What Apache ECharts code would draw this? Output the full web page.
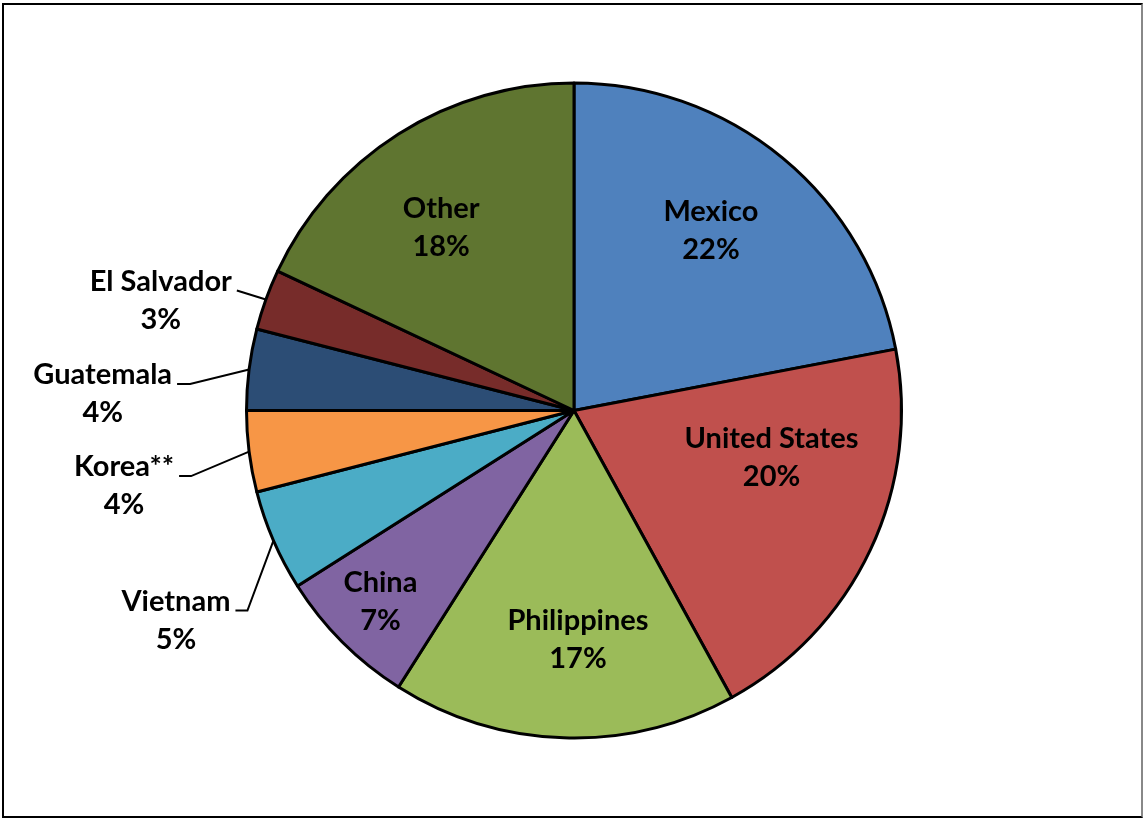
<!DOCTYPE html>
<html>
<head>
<meta charset="utf-8">
<script src="https://cdn.jsdelivr.net/npm/echarts@6/dist/echarts.min.js"></script>
<style>
  html, body { margin: 0; padding: 0; background: #fff; }
  #chart { position: absolute; left: 0; top: 0; width: 1145px; height: 819px; }
  #frame { position: absolute; left: 2px; top: 3px; width: 1141px; height: 815px;
           box-sizing: border-box; border: 2px solid #000; border-right-color: #888; pointer-events: none; }
</style>
</head>
<body>
<div id="chart"></div>
<div id="frame"></div>
<script>
// Shares by country (percent), clockwise from 12 o'clock
const countries = ['Mexico', 'United States', 'Philippines', 'China', 'Vietnam', 'Korea**', 'Guatemala', 'El Salvador', 'Other'];
const shares = [22, 20, 17, 7, 5, 4, 4, 3, 18];
const palette = ['#4F81BD', '#C0504D', '#9BBB59', '#8064A2', '#4BACC6', '#F79646', '#2C4D75', '#772C2A', '#5F7530'];

const CX = 574, CY = 410.5, R = 327.5;
const FONT = 'Lato, "Open Sans", sans-serif';

// Labels placed inside their slice: [fraction of radius, angle nudge in degrees]
const insideSpots = {
  'Mexico': [0.69, -2.3],
  'United States': [0.62, -11.8],
  'Philippines': [0.70, -2.8],
  'China': [0.83, 0.4],
  'Other': [0.69, -3.6]
};
// Outside labels: leader bend relative to slice edge [dx, dy], then horizontal run length
const leaderBends = {
  'Vietnam': [-26, 70, 12],
  'Korea**': [-58, 24.5, 12],
  'Guatemala': [-59, 14.5, 13],
  'El Salvador': [-29, -9, 0]
};

const total = shares.reduce((a, b) => a + b, 0);
const midAngles = [];
let acc = 0;
shares.forEach(v => { midAngles.push((acc + v / 2) / total * 360); acc += v; });

const polar = (deg, r) => {
  const a = deg * Math.PI / 180;
  return [CX + r * Math.sin(a), CY - r * Math.cos(a)];
};

const data = countries.map((name, i) => {
  const item = { name: name, value: shares[i], itemStyle: { color: palette[i] } };
  if (insideSpots[name]) {
    item.label = { position: 'inside' };
    item.labelLine = { show: false };
  }
  return item;
});

const chart = echarts.init(document.getElementById('chart'), null, { renderer: 'canvas' });
chart.setOption({
  animation: false,
  series: [{
    type: 'pie',
    center: [CX, CY],
    radius: [0, R],
    startAngle: 90,
    clockwise: true,
    avoidLabelOverlap: false,
    data: data,
    itemStyle: { borderColor: '#000', borderWidth: 3 },
    emphasis: { disabled: true },
    label: {
      show: true,
      position: 'outside',
      formatter: '{b}\n{c}%',
      color: '#000',
      fontFamily: FONT,
      fontWeight: 'bold',
      fontSize: 29,
      lineHeight: 38
    },
    labelLine: { show: true, length: 10, length2: 10, lineStyle: { color: '#000', width: 2 } },
    labelLayout: function (params) {
      const name = countries[params.dataIndex];
      const mid = midAngles[params.dataIndex];
      if (insideSpots[name]) {
        const s = insideSpots[name];
        const p = polar(mid + s[1], R * s[0]);
        return { x: p[0], y: p[1], align: 'center', verticalAlign: 'middle' };
      }
      const b = leaderBends[name];
      const edge = polar(mid, R);
      const elbow = [edge[0] + b[0], edge[1] + b[1]];
      const end = [elbow[0] - b[2], elbow[1]];
      const w = params.labelRect.width;
      return {
        x: end[0] - 5 - w / 2,
        y: end[1] + 10,
        align: 'center',
        verticalAlign: 'middle',
        labelLinePoints: [edge, elbow, end]
      };
    }
  }]
});
</script>
</body>
</html>
